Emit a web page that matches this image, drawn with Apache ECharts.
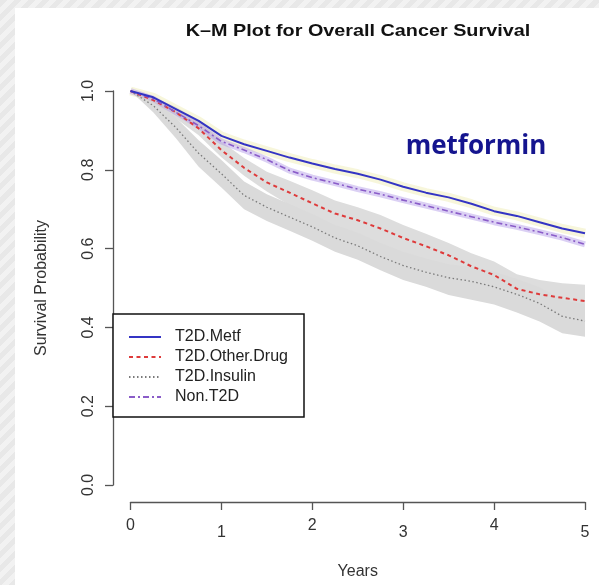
<!DOCTYPE html>
<html><head><meta charset="utf-8">
<script src="https://cdn.jsdelivr.net/npm/echarts@6/dist/echarts.min.js"></script>
<style>
html,body{margin:0;padding:0;width:599px;height:585px;overflow:hidden;
background:repeating-linear-gradient(135deg,#e8e8e8 0px,#e8e8e8 5px,#f2f2f2 5px,#f2f2f2 10px);}
#c{width:599px;height:585px;}
</style></head><body><div id="c"></div>
<script>
// ---- data ----
const years      = [0, 0.25, 0.5, 0.75, 1, 1.25, 1.5, 1.75, 2, 2.25, 2.5, 2.75, 3, 3.25, 3.5, 3.75, 4, 4.25, 4.5, 4.75, 5];
const metf       = [1.0, 0.984, 0.954, 0.924, 0.886, 0.865, 0.848, 0.831, 0.816, 0.802, 0.790, 0.775, 0.757, 0.742, 0.730, 0.714, 0.695, 0.683, 0.667, 0.651, 0.639];
const otherDrug  = [1.0, 0.977, 0.946, 0.905, 0.850, 0.805, 0.768, 0.742, 0.715, 0.689, 0.672, 0.651, 0.627, 0.606, 0.583, 0.555, 0.533, 0.498, 0.484, 0.475, 0.467];
const otherUpper = [1.0, 0.985, 0.960, 0.925, 0.872, 0.830, 0.795, 0.772, 0.748, 0.722, 0.705, 0.685, 0.660, 0.638, 0.614, 0.588, 0.567, 0.535, 0.520, 0.512, 0.508];
const otherLower = [1.0, 0.968, 0.930, 0.888, 0.832, 0.785, 0.745, 0.710, 0.680, 0.652, 0.634, 0.612, 0.588, 0.566, 0.543, 0.514, 0.493, 0.458, 0.442, 0.432, 0.420];
const insulin    = [1.0, 0.963, 0.907, 0.842, 0.790, 0.735, 0.705, 0.680, 0.655, 0.627, 0.607, 0.580, 0.557, 0.540, 0.526, 0.517, 0.503, 0.484, 0.461, 0.428, 0.416];
const insUpper   = [1.0, 0.978, 0.932, 0.875, 0.825, 0.770, 0.738, 0.713, 0.688, 0.660, 0.640, 0.614, 0.592, 0.575, 0.560, 0.553, 0.541, 0.523, 0.502, 0.470, 0.458];
const insLower   = [1.0, 0.946, 0.880, 0.808, 0.755, 0.700, 0.670, 0.645, 0.620, 0.592, 0.572, 0.545, 0.520, 0.503, 0.482, 0.470, 0.458, 0.438, 0.415, 0.385, 0.376];
const nonT2D     = [1.0, 0.980, 0.946, 0.912, 0.872, 0.850, 0.826, 0.798, 0.780, 0.766, 0.751, 0.738, 0.723, 0.709, 0.695, 0.681, 0.667, 0.655, 0.642, 0.628, 0.611];
const seriesNames = ['T2D.Metf', 'T2D.Other.Drug', 'T2D.Insulin', 'Non.T2D'];
const xTickLabels = ['0', '1', '2', '3', '4', '5'];
const yTickLabels = ['0.0', '0.2', '0.4', '0.6', '0.8', '1.0'];
const titleText = 'K\u2013M Plot for Overall Cancer Survival';
const noteText = 'metformin';

// ---- build ----
const pairs = (ys) => years.map((t, i) => [t, ys[i]]);
const FONT = 'Liberation Sans';

// confidence band drawn as a polygon through the axes' own coordinate mapping
const band = (upper, lower, color) => ({
  type: 'custom', silent: true, z: 1, clip: true,
  data: [[0, 0]],
  renderItem: (params, api) => {
    const pts = [];
    for (let i = 0; i < years.length; i++) pts.push(api.coord([years[i], upper[i]]));
    for (let i = years.length - 1; i >= 0; i--) pts.push(api.coord([years[i], lower[i]]));
    return { type: 'polygon', shape: { points: pts }, style: { fill: color } };
  }
});

const chart = echarts.init(document.getElementById('c'), null, { renderer: 'canvas' });
chart.setOption({
  animation: false,
  backgroundColor: 'transparent',
  grid: { left: 130.5, right: 14, top: 91, bottom: 99, containLabel: false },
  graphic: [
    { type: 'rect', z: -10, silent: true, shape: { x: 15, y: 8, width: 584, height: 577 }, style: { fill: '#ffffff' } },
    { type: 'text', x: 358, y: 31, scaleX: 1.2, scaleY: 1, z: 10,
      style: { text: titleText, font: 'bold 16.5px "Liberation Sans"', fill: '#111', textAlign: 'center', textVerticalAlign: 'middle' } },
    { type: 'text', x: 476, y: 147, z: 10,
      style: { text: noteText, font: 'bold 26px "Open Sans"', fill: '#15158f', textAlign: 'center', textVerticalAlign: 'middle' } },
    { type: 'rect', z: 3, silent: true, shape: { x: 113, y: 314, width: 191, height: 103 },
      style: { fill: '#ffffff', stroke: '#111', lineWidth: 1.5 } }
  ],
  legend: {
    data: seriesNames, orient: 'vertical', left: 128, top: 329, padding: 0,
    itemWidth: 32, itemHeight: 16, itemGap: 4, selectedMode: false, z: 6,
    itemStyle: { opacity: 0 },
    textStyle: { fontFamily: FONT, fontSize: 16, color: '#222', lineHeight: 16, padding: [0, 0, 0, 9] }
  },
  xAxis: {
    type: 'value', min: 0, max: 5, interval: 1, offset: 17,
    axisLine: { show: true, onZero: false, lineStyle: { color: '#555', width: 1.3 } },
    axisTick: { show: true, length: 8, lineStyle: { color: '#555', width: 1.3 } },
    splitLine: { show: false },
    axisLabel: {
      margin: 16, color: '#333', fontFamily: FONT, fontSize: 16,
      formatter: (v) => { const i = Math.round(v); return (i % 2 ? '{b|' : '{a|') + xTickLabels[i] + '}'; },
      rich: {
        a: { fontFamily: FONT, fontSize: 16, color: '#333', lineHeight: 16 },
        b: { fontFamily: FONT, fontSize: 16, color: '#333', lineHeight: 29 }
      }
    },
    name: 'Years', nameLocation: 'middle', nameGap: 62,
    nameTextStyle: { fontFamily: FONT, fontSize: 16, color: '#333' }
  },
  yAxis: {
    type: 'value', min: 0, max: 1, interval: 0.2, offset: 17.5,
    axisLine: { show: true, onZero: false, lineStyle: { color: '#555', width: 1.3 } },
    axisTick: { show: true, length: 8, lineStyle: { color: '#555', width: 1.3 } },
    splitLine: { show: false },
    axisLabel: {
      rotate: 90, margin: 16, color: '#333', fontFamily: FONT, fontSize: 16,
      formatter: (v) => yTickLabels[Math.round(v * 5)]
    },
    name: 'Survival Probability', nameLocation: 'middle', nameGap: 63,
    nameTextStyle: { fontFamily: FONT, fontSize: 16, color: '#333' }
  },
  series: [
    band(otherUpper, otherLower, '#dddddd'),
    band(insUpper, insLower, '#dadada'),
    { type: 'line', data: pairs(metf), symbol: 'none', silent: true, z: 2,
      lineStyle: { color: 'rgba(240,238,190,0.55)', width: 9 } },
    { type: 'line', data: pairs(nonT2D), symbol: 'none', silent: true, z: 2,
      lineStyle: { color: 'rgba(175,150,230,0.45)', width: 6 } },
    { name: 'T2D.Insulin', type: 'line', data: pairs(insulin), symbol: 'none', z: 3,
      lineStyle: { color: '#7a7a7a', width: 1.3, type: [1.5, 2.5] }, itemStyle: { color: '#7a7a7a' } },
    { name: 'T2D.Other.Drug', type: 'line', data: pairs(otherDrug), symbol: 'none', z: 3,
      lineStyle: { color: '#de3b3b', width: 2, type: [4, 3.5] }, itemStyle: { color: '#de3b3b' } },
    { name: 'Non.T2D', type: 'line', data: pairs(nonT2D), symbol: 'none', z: 3,
      lineStyle: { color: '#8a5cc8', width: 1.6, type: [6, 3, 2, 3] }, itemStyle: { color: '#8a5cc8' } },
    { name: 'T2D.Metf', type: 'line', data: pairs(metf), symbol: 'none', z: 4,
      lineStyle: { color: '#3434c4', width: 2 }, itemStyle: { color: '#3434c4' } }
  ]
});
</script></body></html>
